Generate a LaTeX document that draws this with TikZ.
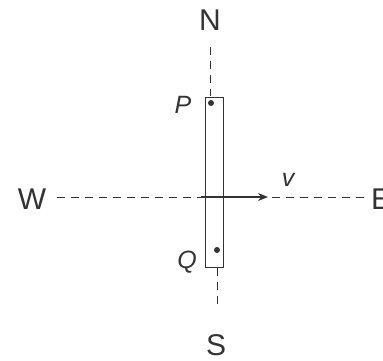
\documentclass[tikz,border=0pt]{standalone}
\usepackage{fontspec}
\setmainfont{Liberation Sans}
\usetikzlibrary{arrows.meta}
\definecolor{ink}{HTML}{333333}

\begin{document}
\begin{tikzpicture}[
    x=0.5pt, y=-0.5pt,
    every node/.style={font=\fontsize{15}{17}\selectfont, text=ink, inner sep=0pt},
    pointlabel/.style={font=\fontsize{12.5}{14}\selectfont\itshape},
    axis/.style={draw=ink, thin, dash pattern=on 4pt off 3pt},
    rodbox/.style={draw=ink, thin, minimum width=9pt, minimum height=85pt},
    dot/.style={circle, fill=ink, minimum size=3pt},
    arrow/.style={draw=ink, semithick, -{Stealth[length=5pt, width=4pt]}}
]
\useasboundingbox (0,0) rectangle (383,360);
\clip (0,0) rectangle (383,360);

% Nodes
\node (north) at (210,20) {N};
\node (south) at (216,345) {S};
\node (west) at (32,199) {W};
\node (east) at (381,199) {E};

\node[rodbox] (rod) at (214,182) {};
\node[dot] (dotP) at (211,103) {};
\node[dot] (dotQ) at (217,250) {};
\node[pointlabel] (labelP) at (183,105) {P};
\node[pointlabel] (labelQ) at (187,262) {Q};
\node[pointlabel] (labelv) at (288,180) {v};

\coordinate (topend) at (210,96);
\coordinate (botend) at (217,268);
\coordinate (start) at (201,197);
\coordinate (tip) at (268,197);

% Dashed compass lines
\draw[axis, shorten <=8pt] (north.south -| topend) -- (topend);
\draw[axis, shorten >=14pt] (botend) -- (botend |- south.north);
\draw[axis, shorten <=5pt] (west.east |- start) -- (start);
\draw[axis, shorten <=2pt, shorten >=1pt] (tip) -- (east.west |- tip);

% Velocity
\draw[arrow] (start) -- (tip);

\end{tikzpicture}
\end{document}
